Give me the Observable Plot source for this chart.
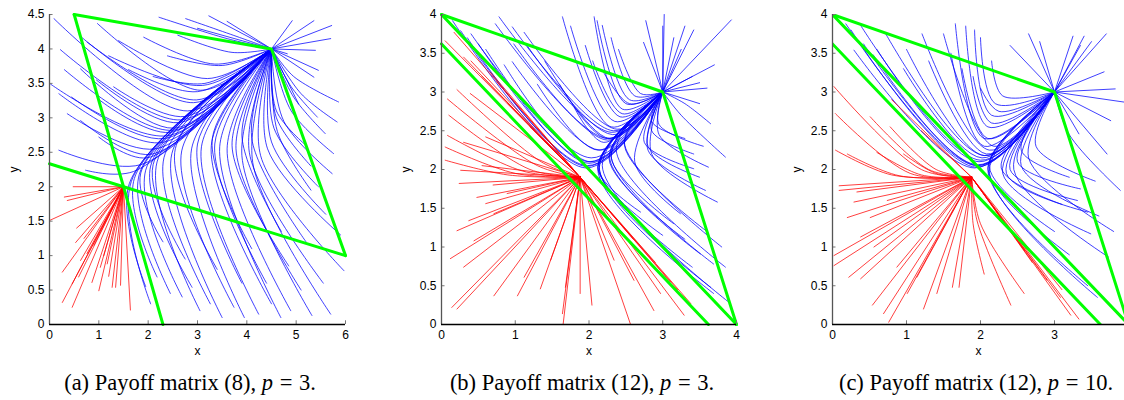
<!DOCTYPE html>
<html><head><meta charset="utf-8">
<script src="https://cdn.jsdelivr.net/npm/d3@7"></script>
<script src="https://cdn.jsdelivr.net/npm/@observablehq/plot@0.6"></script>
<style>
html,body{margin:0;padding:0;background:#fff;overflow:hidden;width:1124px;height:400px}
#wrap{position:relative;width:1124px;height:400px;overflow:hidden}
.panel{position:absolute;top:0}
.cap{position:absolute;font-family:"Liberation Serif","Times New Roman",serif;font-size:22.5px;line-height:22px;white-space:nowrap;transform:translateX(-50%);top:372px;color:#000}
.cap .eq{margin:0 1px}
</style></head><body>
<div id="wrap">
  <div class="panel" id="pa" style="left:0px"></div>
  <div class="panel" id="pb" style="left:392px"></div>
  <div class="panel" id="pc" style="left:783px"></div>
  <div class="cap" style="left:190px">(a) Payoff matrix (8), <i>p</i> <span class="eq">=</span> 3.</div>
  <div class="cap" style="left:582px">(b) Payoff matrix (12), <i>p</i> <span class="eq">=</span> 3.</div>
  <div class="cap" style="left:976px">(c) Payoff matrix (12), <i>p</i> <span class="eq">=</span> 10.</div>
</div>
<script>
// ---------- Panel (a): Payoff matrix (8), p = 3 ----------
const aXTicks = [0, 1, 2, 3, 4, 5, 6];
const aYTicks = [0, 0.5, 1, 1.5, 2, 2.5, 3, 3.5, 4, 4.5];
const aBlueEnd = [4.5, 4.0];
const aRedEnd = [1.5, 2.0];
const aGreen = [
  [[0, 2.333], [6, 1]],
  [[0.5, 4.5], [2.3, 0]],
  [[0.5, 4.5], [4.5, 4.0], [6, 1]]
];
// trajectories: [x0, y0] or [x0, y0, xTurn, yTurn]; each ends at its attractor
const aBlue = [
  [1.91,4.17,3.35,3.78],[1.40,4.12,3.20,3.57],[0.97,4.37,3.06,3.40],[0.76,4.10,2.98,3.26],[0.09,4.44,2.80,3.10],
  [0.22,3.99,2.66,2.97],[0.63,3.71,2.52,2.85],[0.02,3.49,2.39,2.74],[0.19,3.35,2.26,2.64],[0.36,3.06,2.15,2.55],
  [0.63,2.96,2.05,2.47],[0.19,2.53,1.85,2.32],[1.03,3.25,2.45,2.79],[1.00,2.72,1.98,2.42],[0.73,2.24,1.70,2.22],
  [0.45,3.30,2.33,2.70],[1.20,3.90,3.10,3.47],[0.60,4.20,2.92,3.22],[1.60,3.70,3.00,3.38],[2.39,3.90,3.50,3.76],
  [2.10,3.60,3.15,3.50],[1.30,3.45,2.75,3.02],[0.95,3.55,2.62,2.93],[0.30,3.70,2.50,2.82],
  [2.22,4.46,3.60,4.15],[2.76,4.44,3.80,4.18],[3.23,4.48],[3.60,4.40],[2.60,4.20,3.70,3.95],[3.00,4.30],
  [4.92,4.41],[5.36,4.41],[5.72,4.34],[5.70,4.15],[5.39,3.98],[4.82,3.93],[5.45,3.69],[5.36,3.59],
  [5.86,3.23,4.95,3.60],[5.83,2.94,5.10,3.35],[5.43,3.01,4.90,3.45],[5.59,2.77,4.95,3.30],[5.76,2.48,4.90,3.10],
  [5.73,2.19,4.75,2.95],[5.30,2.30,4.60,3.00],[5.45,2.00,4.55,2.85],[5.05,3.20],[5.20,2.60,4.60,3.10],
  [1.95,0.55,1.62,2.05],[2.18,0.69,1.72,2.12],[2.05,0.30,1.66,2.08],[2.45,0.45,1.82,2.18],[2.69,0.40,1.95,2.24],
  [2.89,0.54,2.05,2.30],[3.05,0.20,2.18,2.36],[3.26,0.30,2.32,2.42],[3.50,0.10,2.48,2.48],[3.74,0.25,2.68,2.52],
  [3.95,0.10,2.88,2.55],[4.24,0.15,3.08,2.58],[4.50,0.30,3.28,2.60],[4.69,0.10,3.45,2.58],[4.89,0.20,3.60,2.55],
  [5.10,0.50,3.78,2.55],[5.32,0.13,3.90,2.45],[5.55,0.60,4.05,2.50],[5.70,0.15,4.12,2.35],[5.97,0.78,4.28,2.45],
  [5.90,1.30,4.42,2.55],[5.60,1.60,4.50,2.65],[5.30,1.95,4.62,2.80],[4.85,0.85,3.70,2.60],[4.40,0.60,3.35,2.62],
  [3.90,0.60,3.00,2.62],[3.40,0.80,2.55,2.55],[2.75,0.95,2.10,2.32],[4.10,1.10,3.30,2.70],[4.70,1.35,3.90,2.75],
  [5.20,1.20,4.10,2.70],[2.30,1.20,1.85,2.20]
];
const aRed = [
  [0.00,1.51],[0.48,2.00],[0.36,1.80],[0.53,1.19],[0.26,0.76],[0.26,0.32],[0.46,0.25],[0.59,0.69],[0.86,0.61],
  [1.00,0.49],[1.27,0.54],[1.34,0.54],[1.44,0.57],[1.64,0.21],[0.63,0.93],[0.76,1.03],[1.03,0.83],[1.17,0.88],
  [0.46,0.59],[0.70,1.25],[0.90,1.15],[1.10,1.00],[1.20,0.70],[0.30,1.85],[0.55,1.40]
];

// ---------- Panel (b): Payoff matrix (12), p = 3 ----------
const bXTicks = [0, 1, 2, 3, 4];
const bYTicks = [0, 0.5, 1, 1.5, 2, 2.5, 3, 3.5, 4];
const bBlueEnd = [3.0, 3.0];
const bRedEnd = [1.88, 1.9];
const bGreen = [
  [[0, 4], [3, 3], [4, 0]],
  [[0, 4], [4, 0]],
  [[0, 3.62], [3.62, 0]]
];
const bBlue = [
  [0.26,3.79,1.98,2.05],[0.50,3.62,2.00,2.10],[0.73,3.88,2.25,2.40],[0.78,3.97,2.30,2.48],[0.96,3.84,2.33,2.50],
  [1.12,3.77,2.38,2.52],[0.98,3.62,2.25,2.38],[1.16,3.60,2.32,2.45],[0.96,3.39,2.15,2.25],[1.40,3.40,2.28,2.40],
  [1.30,3.10,2.12,2.25],[0.40,3.75,2.03,2.15],[1.60,3.10,2.25,2.40],[1.80,2.80,2.20,2.35],
  [0.15,3.92,1.96,2.02],[0.35,3.70,1.97,2.04],[0.60,3.55,2.00,2.08],[0.85,3.35,2.02,2.10],
  [1.64,3.97,2.30,2.55],[1.75,3.85,2.35,2.62],[2.07,3.97,2.45,2.78],[2.11,3.92,2.50,2.85],[2.18,3.86,2.55,2.90],
  [2.30,3.70,2.62,2.95],[2.40,3.55,2.70,2.98],[2.77,3.92],[2.74,3.64],[1.95,3.60,2.42,2.68],[2.05,3.40,2.45,2.72],
  [2.20,3.25,2.55,2.85],
  [3.02,4.00],[3.00,3.85],[3.30,3.85],[3.42,3.80],[3.93,3.93],[3.70,3.35],[3.50,3.12],[3.60,3.05],[3.50,2.85],
  [3.40,3.20],[3.15,3.70],[3.25,3.55],
  [3.85,2.16,3.25,2.70],[3.65,2.59,3.30,2.85],[3.62,2.03,2.95,2.45],[3.58,1.73,2.80,2.25],[3.74,1.58,2.85,2.20],
  [3.42,2.20,2.85,2.50],[3.42,2.01,2.75,2.35],[3.24,1.43,2.62,2.10],[3.50,1.90,2.80,2.30],[3.30,2.40,2.85,2.62],
  [3.55,2.30,2.95,2.58],
  [3.92,0.27,2.18,2.05],[3.85,0.74,2.37,2.25],[3.65,0.48,2.14,2.02],[3.69,0.78,2.30,2.18],[3.51,0.91,2.28,2.16],
  [3.69,0.40,2.12,2.00],[3.40,0.74,2.14,2.02],[3.30,1.10,2.27,2.15],[3.15,1.30,2.30,2.17],[3.60,1.20,2.48,2.32],
  [3.80,1.00,2.48,2.35],[3.00,1.15,2.12,2.03],[2.70,1.45,2.12,2.03]
];
const bRed = [
  [0.08,2.91,1.30,2.05],[0.21,3.03,1.35,2.10],[0.39,2.98],[0.10,2.70,1.20,2.00],[0.08,2.44,1.10,1.98],
  [0.05,2.29,1.00,1.95],[0.05,2.12,0.90,1.93],[0.30,2.35],[0.60,2.42],[0.24,1.82],[0.26,1.99],[0.48,1.64],
  [0.21,1.21],[0.12,0.85],[0.30,0.74],[0.14,0.22],[0.21,0.20],[0.71,0.37],[1.03,0.37],[1.12,0.61],[1.34,0.46],
  [1.48,0.83],[1.64,0.14],[1.65,0.01],[1.68,0.48],[2.04,0.25],[1.88,0.40],[2.56,0.01],[2.88,0.18],[2.97,0.40],
  [3.29,0.12],[3.38,0.27],[2.61,0.57],[2.34,0.83],[0.60,1.56],[0.71,1.43],[0.44,1.08],[0.37,1.34],[0.89,1.69],
  [0.05,3.66],[0.17,3.77],[0.66,3.26],[0.75,3.13],[0.40,3.40],[3.10,0.55],[0.55,2.05],[0.70,1.80],
  [0.30,3.45],[0.55,3.20],[0.90,2.85],[1.20,2.55],[2.60,1.10],[2.90,0.80],[3.20,0.45]
];

// ---------- Panel (c): Payoff matrix (12), p = 10 ----------
const cXTicks = [0, 1, 2, 3];
const cYTicks = [0, 0.5, 1, 1.5, 2, 2.5, 3, 3.5, 4];
const cBlueEnd = [3.0, 3.0];
const cRedEnd = [1.88, 1.9];
const cGreen = [
  [[0, 4], [3, 3], [4, 0]],
  [[0, 4], [4, 0]],
  [[0, 3.62], [3.62, 0]]
];
const cBlue = [
  [0.18,3.88,1.95,2.05],[0.38,3.86,2.00,2.12],[0.29,3.54,1.92,2.02],[0.42,3.62,1.96,2.06],[0.72,3.75,2.05,2.18],
  [1.21,3.75,2.12,2.25],[1.50,3.75,2.18,2.30],[0.96,3.30,2.02,2.15],[0.60,3.55,1.98,2.10],[1.00,3.55,2.05,2.18],
  [1.30,3.40,2.08,2.20],[0.25,3.80,1.94,2.03],[0.55,3.48,1.96,2.05],
  [1.66,3.88,2.05,2.40],[1.80,3.85,2.10,2.55],[1.92,3.80,2.15,2.70],[2.00,3.70,2.20,2.85],[1.60,3.50,2.05,2.30],
  [1.75,3.30,2.10,2.40],[2.15,3.40,2.30,2.95],[1.90,3.20,2.15,2.60],[2.00,3.05,2.25,2.75],
  [2.40,3.60],[2.65,3.75],[2.80,3.65],[3.25,3.72],[3.40,3.72],[3.50,3.65],[3.70,3.75],[3.35,3.60],
  [3.67,3.26],[3.82,3.04],[3.94,2.87],[3.76,2.63],[3.71,2.20],[3.33,2.46],[3.89,1.73,3.20,2.45],
  [3.31,1.60,2.40,2.00],[3.35,1.75,2.50,2.10],[3.20,1.90,2.55,2.25],[3.55,1.85,2.75,2.30],[3.45,1.45,2.35,1.95],
  [3.60,1.40,2.55,2.05],[3.49,1.17,2.30,1.95],[3.73,0.87,2.45,2.00],[3.58,0.35,2.12,1.98],[3.45,0.50,2.10,2.00],
  [3.20,0.90,2.10,2.02],[3.00,1.20,2.12,2.04],[3.80,1.20,2.65,2.15],[3.10,1.55,2.28,2.02]
];
const cRed = [
  [0.02,3.07,1.20,2.00],[0.04,2.72,1.05,1.95],[0.51,2.68,1.30,2.00],[0.04,2.25,0.80,1.93],[0.20,2.20,0.90,1.92],
  [0.60,2.22,1.20,1.93],[0.96,2.20,1.40,1.95],[0.78,2.55,1.40,2.00],
  [0.09,1.79],[0.09,1.73],[0.33,1.71],[0.29,1.58],[0.20,1.38],[0.51,1.38],[0.74,1.60],
  [0.02,0.89],[0.02,0.76],[0.22,0.61],[0.38,0.59],[0.54,0.25],[0.69,0.14],[0.76,0.03],[1.01,0.40],[1.23,0.20],
  [1.41,0.40],[1.62,0.48],[1.71,0.48],[1.14,0.61],[0.87,0.74],[0.56,1.00],[0.38,1.13],
  [2.41,0.25,1.95,1.35],[2.59,0.40,2.00,1.30],[2.05,0.65,1.90,1.30],[3.33,0.07],[3.22,0.12],[3.08,0.35],
  [2.90,0.57],[2.70,0.80],[0.80,2.90],[1.20,2.50],[2.60,0.95],[3.10,0.45]
];

// ---------- drawing ----------
function toRows(list, end, tag) {
  const rows = [];
  list.forEach((t, i) => {
    rows.push({id: tag + i, x: t[0], y: t[1]});
    if (t.length > 2) rows.push({id: tag + i, x: t[2], y: t[3]});
    rows.push({id: tag + i, x: end[0], y: end[1]});
  });
  return rows;
}
function greenRows(polys) {
  const rows = [];
  polys.forEach((p, i) => p.forEach(q => rows.push({id: i, x: q[0], y: q[1]})));
  return rows;
}
function panel(el, cfg) {
  const xMax = cfg.xd[1], yMax = cfg.yd[1];
  const fig = Plot.plot({
    width: cfg.width, height: 360,
    marginLeft: 49, marginRight: cfg.mr, marginTop: 14, marginBottom: 36,
    x: {domain: cfg.xd}, y: {domain: cfg.yd},
    style: {fontFamily: "'Liberation Sans', Arial, sans-serif", fontSize: "12px", color: "#000", background: "transparent"},
    marks: [
      Plot.line(toRows(cfg.blue, cfg.blueEnd, "b"), {x: "x", y: "y", z: "id", stroke: "#0000ff", strokeWidth: 0.75, curve: "catmull-rom", clip: true}),
      Plot.line(toRows(cfg.red, cfg.redEnd, "r"), {x: "x", y: "y", z: "id", stroke: "#ff0000", strokeWidth: 0.75, curve: "catmull-rom", clip: true}),
      Plot.line(greenRows(cfg.green), {x: "x", y: "y", z: "id", stroke: "#00ff00", strokeWidth: 3, strokeLinejoin: "round", clip: cfg.clipGreen}),
      Plot.ruleX(cfg.xt, {y1: 0, y2: yMax * 0.012, stroke: "#777"}),
      Plot.ruleY(cfg.yt, {x1: 0, x2: xMax * 0.012, stroke: "#777"}),
      Plot.ruleX([0], {stroke: "#555", strokeWidth: 1.3}),
      Plot.ruleY([0], {stroke: "#000", strokeWidth: 1.3}),
      Plot.axisX({ticks: cfg.xt, tickSize: 0, tickPadding: 6, tickFormat: d => String(d), label: "x", labelAnchor: "center", labelOffset: 30, labelArrow: "none"}),
      Plot.axisY({ticks: cfg.yt, tickSize: 0, tickPadding: 5, tickFormat: d => String(d), label: "y", labelAnchor: "center", labelOffset: 40, labelArrow: "none"})
    ]
  });
  document.getElementById(el).appendChild(fig);
}
panel("pa", {width: 360, mr: 15, xd: [0, 6], yd: [0, 4.5], xt: aXTicks, yt: aYTicks, blue: aBlue, red: aRed, green: aGreen, blueEnd: aBlueEnd, redEnd: aRedEnd, clipGreen: false});
panel("pb", {width: 359, mr: 15, xd: [0, 4], yd: [0, 4], xt: bXTicks, yt: bYTicks, blue: bBlue, red: bRed, green: bGreen, blueEnd: bBlueEnd, redEnd: bRedEnd, clipGreen: false});
panel("pc", {width: 341, mr: 0, xd: [0, 3.946], yd: [0, 4], xt: cXTicks, yt: cYTicks, blue: cBlue, red: cRed, green: cGreen, blueEnd: cBlueEnd, redEnd: cRedEnd, clipGreen: true});
</script>
</body></html>
